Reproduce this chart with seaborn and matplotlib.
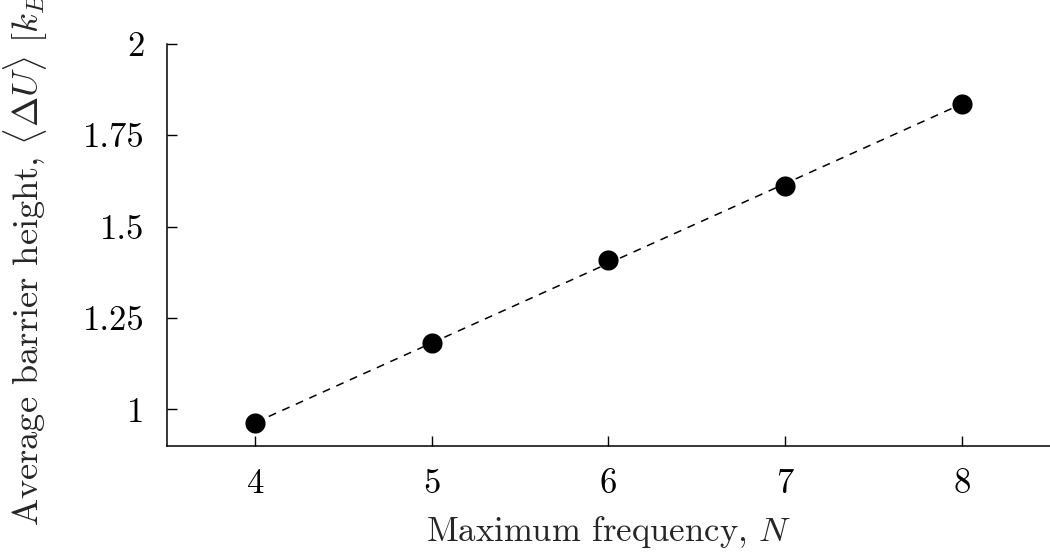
import numpy as np
import pandas as pd
import matplotlib
matplotlib.use("Agg")
import matplotlib.pyplot as plt
import seaborn as sns

# Data
N_values = [4, 5, 6, 7, 8]
barrier_height = [0.962, 1.181, 1.408, 1.611, 1.836]
x_ticks = [4, 5, 6, 7, 8]
y_ticks = [1.0, 1.25, 1.5, 1.75, 2.0]
y_ticklabels = ["1", "1.25", "1.5", "1.75", "2"]

sns.set_style("ticks")
plt.rcParams["font.family"] = ["cmr10", "DejaVu Serif"]
plt.rcParams["mathtext.fontset"] = "cm"
plt.rcParams["axes.formatter.use_mathtext"] = True
plt.rcParams["axes.unicode_minus"] = False

df = pd.DataFrame({"N": N_values, "U": barrier_height})
coef = np.polyfit(df["N"], df["U"], 1)
fit_df = pd.DataFrame({"N": N_values, "U": np.polyval(coef, N_values)})

fig = plt.figure(figsize=(10.5, 5.54), dpi=100)
ax = fig.add_axes([0.159, 0.195, 0.841, 0.726])

sns.lineplot(data=fit_df, x="N", y="U", ax=ax, color="black", linewidth=1.1,
             dashes=False, zorder=1)
ax.lines[0].set_dashes((5.2, 4.5))
sns.scatterplot(data=df, x="N", y="U", ax=ax, color="black", s=210,
                edgecolor="black", linewidth=0, zorder=3)

ax.set_xlim(3.5, 8.5)
ax.set_ylim(0.9, 2.0)
ax.set_xticks(x_ticks)
ax.set_xticklabels([str(v) for v in x_ticks])
ax.set_yticks(y_ticks)
ax.set_yticklabels(y_ticklabels)
ax.tick_params(direction="in", length=7, width=1, labelsize=25, pad=16,
               color="black", labelcolor="black")
for s in ["top", "right"]:
    ax.spines[s].set_visible(False)
for s in ["left", "bottom"]:
    ax.spines[s].set_linewidth(1.1)
    ax.spines[s].set_color("black")

ax.set_xlabel(r"Maximum frequency, $N$", fontsize=25, labelpad=10)
ax.set_ylabel(r"Average barrier height, $\langle\Delta U\rangle$ [$k_BT$]",
              fontsize=26.2, labelpad=24)

fig.savefig("out.png", dpi=100)
